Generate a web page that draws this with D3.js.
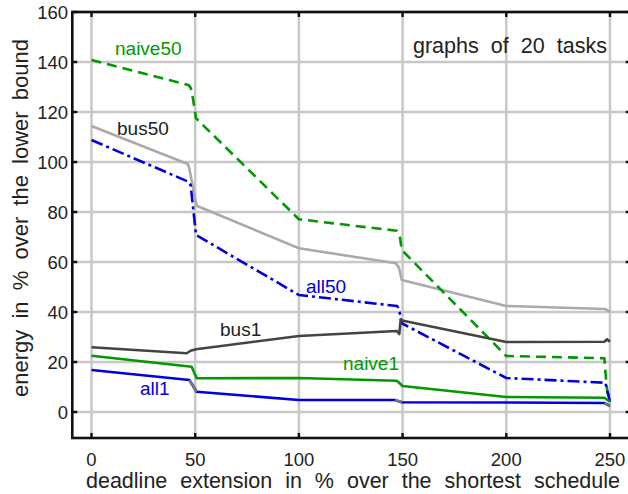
<!DOCTYPE html>
<html>
<head>
<meta charset="utf-8">
<script src="https://cdn.jsdelivr.net/npm/d3@7"></script>
<style>
  body { margin: 0; background: #fff; }
  svg { display: block; }
  text { font-family: "Liberation Sans", Arial, Helvetica, sans-serif; }
</style>
</head>
<body>
<svg id="chart" width="628" height="494"></svg>
<script>
// Tick values
const xTicks = [0, 50, 100, 150, 200, 250];
const yTicks = [0, 20, 40, 60, 80, 100, 120, 140, 160];

// Energy (% over lower bound) vs. deadline extension (%), [extension, energy]
const naive50 = [[0, 140.8], [46.7, 130.8], [47.6, 130.0], [48.3, 128.6], [50.4, 117.5],
  [100, 77.1], [147.2, 72.5], [148.3, 71.0], [148.8, 69.5], [149.6, 64.8],
  [200, 22.4], [247.3, 21.5], [247.7, 17.0], [248.7, 8.0], [250, 5.6]];
const bus50 = [[0, 114.4], [46.4, 99.2], [47.0, 98.0], [50.7, 82.5],
  [100, 65.5], [146.8, 59.5], [148.3, 57.6], [149.6, 52.8],
  [200, 42.4], [247.6, 41.2], [250, 40.1]];
const all50 = [[0, 108.8], [46.7, 92.1], [47.8, 90.8], [50.4, 70.8],
  [100, 46.8], [147.4, 42.4], [148.4, 40.8], [149.6, 35.5],
  [200, 13.6], [247.8, 11.7], [250, 4.1]];
const bus1 = [[0, 25.9], [45.9, 23.5], [47.8, 24.5], [50.4, 25.1],
  [100, 30.4], [147.2, 32.4], [148.4, 31.2], [149.1, 37.1], [150.3, 36.5],
  [200, 28.0], [247.3, 28.1], [248.6, 29.1], [250, 28.1]];
const naive1 = [[0, 22.5], [48.3, 18.1], [50.7, 13.5],
  [100, 13.6], [147.2, 12.5], [150, 10.4],
  [200, 6.0], [247.3, 5.7], [250, 4.1]];
const all1 = [[0, 16.8], [47.2, 12.8], [50.7, 8.1],
  [100, 4.8], [146.3, 4.8], [149.6, 3.9],
  [200, 3.8], [247.3, 3.6], [250, 2.4]];

const series = [
  { name: "bus50", data: bus50, color: "#aaaaaa", dash: null },
  { name: "naive50", data: naive50, color: "#009900", dash: "10,6" },
  { name: "all50", data: all50, color: "#0000dd", dash: "12,4,3,4" },
  { name: "bus1", data: bus1, color: "#444444", dash: null },
  { name: "naive1", data: naive1, color: "#009900", dash: null },
  { name: "all1", data: all1, color: "#0000dd", dash: null, grayDrops: true }
];

const labels = [
  { text: "naive50", x: 115, y: 55, color: "#009900" },
  { text: "bus50", x: 117, y: 135, color: "#222222" },
  { text: "all50", x: 306, y: 293, color: "#0000dd" },
  { text: "bus1", x: 220, y: 336, color: "#222222" },
  { text: "naive1", x: 343, y: 370, color: "#009900" },
  { text: "all1", x: 140, y: 395, color: "#0000dd" }
];

const svg = d3.select("#chart");
const x = d3.scaleLinear().domain([-9.26, 260]).range([72.3, 630.7]);
const y = d3.scaleLinear().domain([-10.4, 160]).range([438, 12]);
const [x0, x1] = x.range();
const [y0, y1] = y.range();

// grid
const grid = svg.append("g").attr("stroke", "#c8c8c8").attr("stroke-width", 2.5);
grid.selectAll("line.v").data(xTicks).join("line")
  .attr("x1", d => x(d)).attr("x2", d => x(d)).attr("y1", y1).attr("y2", y0);
grid.selectAll("line.h").data(yTicks).join("line")
  .attr("y1", d => y(d)).attr("y2", d => y(d)).attr("x1", x0).attr("x2", x1);

// curves
const line = d3.line().x(d => x(d[0])).y(d => y(d[1]));
series.forEach(s => {
  svg.append("path").datum(s.data)
    .attr("fill", "none").attr("stroke", s.color).attr("stroke-width", 2.6)
    .attr("stroke-linejoin", "round")
    .attr("stroke-dasharray", s.dash)
    .attr("d", line);
  if (s.grayDrops) {
    // steep transitions drawn in gray
    for (let i = 1; i < s.data.length; i++) {
      const a = s.data[i - 1], b = s.data[i];
      if (b[0] - a[0] < 4) {
        svg.append("path").datum([a, b])
          .attr("fill", "none").attr("stroke", "#777777").attr("stroke-width", 2.6)
          .attr("d", line);
      }
    }
  }
});

// frame
svg.append("rect").attr("x", x0).attr("y", y1)
  .attr("width", x1 - x0).attr("height", y0 - y1)
  .attr("fill", "none").attr("stroke", "#111").attr("stroke-width", 2.6);

// inward ticks on all sides
const tk = svg.append("g").attr("stroke", "#111").attr("stroke-width", 2.4);
xTicks.forEach(d => {
  tk.append("line").attr("x1", x(d)).attr("x2", x(d)).attr("y1", y0).attr("y2", y0 - 5);
  tk.append("line").attr("x1", x(d)).attr("x2", x(d)).attr("y1", y1).attr("y2", y1 + 5);
});
yTicks.forEach(d => {
  tk.append("line").attr("y1", y(d)).attr("y2", y(d)).attr("x1", x0).attr("x2", x0 + 5);
  tk.append("line").attr("y1", y(d)).attr("y2", y(d)).attr("x1", x1).attr("x2", x1 - 5);
});

// tick labels
svg.append("g").selectAll("text").data(xTicks).join("text")
  .attr("x", d => x(d)).attr("y", 466)
  .attr("text-anchor", "middle").attr("font-size", 18.5).attr("fill", "#222")
  .text(d => d);
svg.append("g").selectAll("text").data(yTicks).join("text")
  .attr("x", 68).attr("y", d => y(d) + 6.5)
  .attr("text-anchor", "end").attr("font-size", 18.5).attr("fill", "#222")
  .text(d => d);

// stretch word gaps so a string spans a given width
function spread(sel, width) {
  const node = sel.node();
  const len = node.getComputedTextLength();
  const gaps = (sel.text().match(/ /g) || []).length;
  if (gaps) sel.attr("word-spacing", (width - len) / gaps);
}

// axis titles
const xt = svg.append("text").attr("x", 86).attr("y", 488)
  .attr("font-size", 21.5).attr("fill", "#222")
  .text("deadline extension in % over the shortest schedule");
spread(xt, 534);
const yt = svg.append("text")
  .attr("transform", "translate(27.5,397) rotate(-90)")
  .attr("font-size", 22).attr("fill", "#222")
  .text("energy in % over the lower bound");
spread(yt, 358);

// annotation
const ann = svg.append("text").attr("x", 413).attr("y", 53)
  .attr("font-size", 21.5).attr("fill", "#222")
  .text("graphs of 20 tasks");
spread(ann, 194);

// series labels
svg.append("g").selectAll("text").data(labels).join("text")
  .attr("x", d => d.x).attr("y", d => d.y)
  .attr("font-size", 19).attr("fill", d => d.color)
  .text(d => d.text);
</script>
</body>
</html>
